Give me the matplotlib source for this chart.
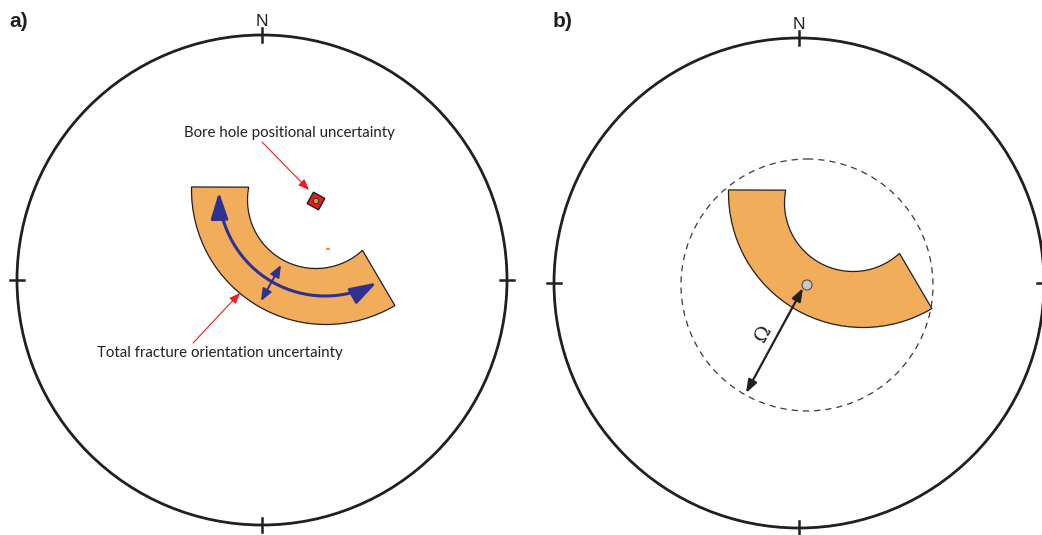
import numpy as np
import matplotlib.pyplot as plt
from matplotlib.path import Path
from matplotlib.patches import Circle, PathPatch, FancyArrowPatch, Rectangle
from matplotlib.transforms import Affine2D

# stereonet centres (pixel space) and radius
net_centres = [(262, 280), (799, 283)]
net_radius = 245
panel_labels = ['a)', 'b)']

# uncertainty band: outer and inner bounding arcs, offsets from the net centre
# (x right, y down), radius, start/end angle in degrees
band_outer_centre = (64, -90)
band_outer_radius = 134.5
band_outer_span = (59.2, 181.3)
band_inner_centre = (54, -80)
band_inner_radius = 68.5
band_inner_span = (47.3, 190.8)

# panel a: arrows along / across the band
spread_centre = (63, -90)
spread_radius = 106
spread_span = (60.8, 178.9)
cross_arrow = [(19, -15), (-1, 21)]
borehole_pos = (54, -79)
borehole_angle = 29
note_borehole = 'Bore hole positional uncertainty'
note_borehole_xy = (-78, -143)
note_borehole_arrow = [(0, -138), (47, -90)]
note_total = 'Total fracture orientation uncertainty'
note_total_xy = (-165, 77)
note_total_arrow = [(-69, 63), (-22, 13)]
stray_mark = (66, -31)

# panel b: mean pole, cone of radius Omega
pole_b = (8, 2)
cone_radius = 126
omega_arrow = [(4, 5), (-53, 110)]
omega_xy = (-36, 50)

ORANGE = '#f2ad5b'
BLUE = '#2e3192'
RED = '#ed1c24'
INK = '#231f20'

fig = plt.figure(figsize=(10.42, 5.35), dpi=100)
ax = fig.add_axes([0, 0, 1, 1])
ax.set_xlim(0, 1042)
ax.set_ylim(535, 0)
ax.axis('off')


def arc_path(cx, cy, r, span):
    return Affine2D().scale(r).translate(cx, cy).transform_path(Path.arc(*span))


def band_path(cx, cy):
    outer = arc_path(cx + band_outer_centre[0], cy + band_outer_centre[1],
                     band_outer_radius, band_outer_span)
    inner = arc_path(cx + band_inner_centre[0], cy + band_inner_centre[1],
                     band_inner_radius, band_inner_span)
    # outer arc from the east end round to the west end, then back along the inner arc
    iv = inner.vertices[::-1]
    ic = inner.codes.copy()
    ic[0] = Path.LINETO
    verts = np.vstack([outer.vertices, iv, outer.vertices[:1]])
    codes = np.concatenate([outer.codes, ic, [Path.CLOSEPOLY]])
    return Path(verts, codes)


for (cx, cy), lab in zip(net_centres, panel_labels):
    ax.add_patch(Circle((cx, cy), net_radius, fill=False, ec=INK, lw=2.0))
    t = 7
    ax.plot([cx, cx], [cy - net_radius - t, cy - net_radius + t], color=INK, lw=1.8)
    ax.plot([cx, cx], [cy + net_radius - t, cy + net_radius + t], color=INK, lw=1.8)
    ax.plot([cx - net_radius - t, cx - net_radius + t], [cy, cy], color=INK, lw=1.8)
    ax.plot([cx + net_radius - t, cx + net_radius + t], [cy, cy], color=INK, lw=1.8)
    ax.text(cx, cy - net_radius - 9, 'N', ha='center', va='baseline',
            fontsize=12.5, family='Liberation Sans', color=INK)
    ax.text(cx - 253 + (lab == 'b)') * 7, 12, lab, ha='left', va='top',
            fontsize=15, fontweight='bold', family='Liberation Sans', color=INK)
    ax.add_patch(PathPatch(band_path(cx, cy), fc=ORANGE, ec=INK, lw=0.9))

# ---- panel a ----
ax0, ay0 = net_centres[0]

spread = arc_path(ax0 + spread_centre[0], ay0 + spread_centre[1], spread_radius, spread_span)
ax.add_patch(FancyArrowPatch(path=spread, arrowstyle='<|-|>,head_length=1.7,head_width=0.55',
                             mutation_scale=9.5, color=BLUE, lw=2.2,
                             shrinkA=0, shrinkB=0))

(x1, y1), (x2, y2) = cross_arrow
ax.add_patch(FancyArrowPatch((ax0 + x1, ay0 + y1), (ax0 + x2, ay0 + y2),
                             arrowstyle='<|-|>,head_length=1.1,head_width=0.45',
                             mutation_scale=6.5, color=BLUE, lw=1.4,
                             shrinkA=0, shrinkB=0))

bx, by = ax0 + borehole_pos[0], ay0 + borehole_pos[1]
ax.add_patch(Rectangle((bx - 6.5, by - 6.5), 13, 13, angle=borehole_angle,
                       rotation_point='center', fc='#e31e24', ec=INK, lw=1.0))
ax.add_patch(Circle((bx, by), 2.8, fc='#c9a227', ec=INK, lw=0.6))

ax.add_patch(Rectangle((ax0 + stray_mark[0] - 2, ay0 + stray_mark[1] - 1), 4, 2,
                       fc='#f7941d', ec='none'))

for txt, (tx, ty), arr in [(note_borehole, note_borehole_xy, note_borehole_arrow),
                           (note_total, note_total_xy, note_total_arrow)]:
    ax.text(ax0 + tx, ay0 + ty, txt, ha='left', va='baseline', fontsize=10.8,
            family='Lato', color=INK)
    (x1, y1), (x2, y2) = arr
    ax.add_patch(FancyArrowPatch((ax0 + x1, ay0 + y1), (ax0 + x2, ay0 + y2),
                                 arrowstyle='-|>,head_length=1.0,head_width=0.4',
                                 mutation_scale=6.5, color=RED, lw=0.8,
                                 shrinkA=0, shrinkB=0))

# ---- panel b ----
bx0, by0 = net_centres[1]
px, py = bx0 + pole_b[0], by0 + pole_b[1]
ax.add_patch(Circle((px, py), cone_radius, fill=False, ec='#3a3a3a', lw=0.9,
                    ls=(0, (5, 4))))
(x1, y1), (x2, y2) = omega_arrow
ax.add_patch(FancyArrowPatch((bx0 + x1, by0 + y1), (bx0 + x2, by0 + y2),
                             arrowstyle='<|-|>,head_length=1.1,head_width=0.4',
                             mutation_scale=7, color=INK, lw=1.6,
                             shrinkA=0, shrinkB=0))
ax.add_patch(Circle((px, py), 5, fc='#c8c8c8', ec='#4d4d4d', lw=0.8))
ax.text(bx0 + omega_xy[0], by0 + omega_xy[1], '\u03a9', rotation=61,
        ha='center', va='center', fontsize=14, family='DejaVu Serif', color=INK)

fig.savefig('out.png', dpi=100)
